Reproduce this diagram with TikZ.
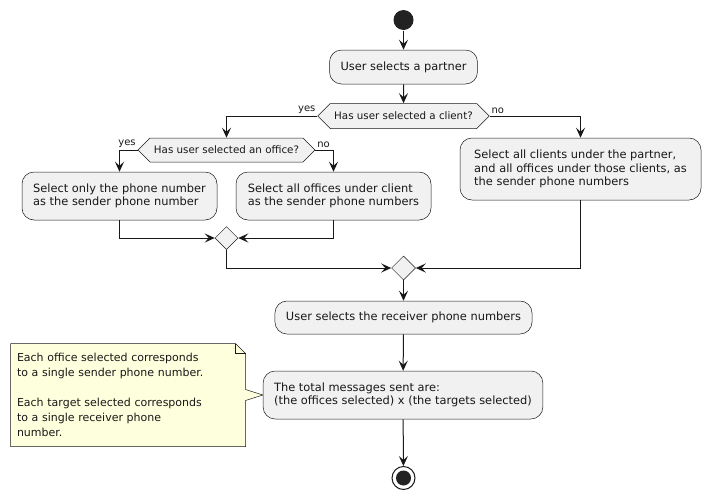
\documentclass[tikz,border=0pt]{standalone}
\usepackage{fontspec}
\setmainfont{DejaVu Sans}
\usepackage{tikz}
\usetikzlibrary{arrows.meta,shapes.geometric,shapes.symbols,backgrounds}

\definecolor{actfill}{HTML}{F1F1F1}
\definecolor{actline}{HTML}{181818}
\definecolor{notefill}{HTML}{FEFFDD}
\definecolor{dotfill}{HTML}{222222}

\begin{document}
\begin{tikzpicture}[x=1pt,y=-1pt
	,>={Stealth[length=10pt,width=9pt,inset=4pt]}
	,line width=1pt
	,color=actline]
  \tikzstyle{act}
  =[rectangle,rounded corners=12pt
  ,draw=actline,line width=0.5pt,fill=actfill
  ,align=left,inner xsep=11pt
  ,font=\fontsize{11.4}{13.6}\selectfont]
  \tikzstyle{ask}
  =[signal,signal to=west and east,signal pointer angle=90
  ,draw=actline,line width=0.5pt,fill=actfill
  ,inner xsep=4pt,font=\fontsize{10.3}{12}\selectfont]
  \tikzstyle{merger}
  =[diamond,draw=actline,line width=0.5pt,fill=actfill
  ,minimum size=23pt,inner sep=0pt]
  \tikzstyle{branch}
  =[inner sep=1.5pt,font=\fontsize{10}{12}\selectfont]

  \useasboundingbox (0,0) rectangle (711,498);

  % start + first action
  \node[circle,fill=dotfill,minimum size=20pt,inner sep=0pt]
    (start) at (403.5,20) {};
  \node[act,minimum width=146pt,minimum height=34pt]
    (partner) at (403.5,67) {User selects a partner};
  % questions
  \node[ask,minimum width=163pt,minimum height=25pt]
    (client) at (403.5,116) {Has user selected a client?};
  \node[ask,minimum width=172pt,minimum height=24pt]
    (office) at (226.5,150) {Has user selected an office?};
  % 3 sender actions
  \node[act,minimum width=195pt,minimum height=48pt]
    (single) at (119.5,196) {Select only the phone number\\
    as the sender phone number};
  \node[act,minimum width=195pt,minimum height=48pt]
    (alloff) at (333.5,196) {Select all offices under client\\
    as the sender phone numbers};
  \node[act,minimum width=241pt,minimum height=62pt]
    (allcli) at (580.5,169) {Select all clients under the partner,\\
    and all offices under those clients, as\\
    the sender phone numbers};
  % merges
  \node[merger] (merge1) at (226.5,238) {};
  \node[merger,minimum size=24pt] (merge2) at (403.5,268) {};
  % receiver + total
  \node[act,minimum width=256pt,minimum height=33pt]
    (receiver) at (403.5,317.5) {User selects the receiver phone numbers};
  \node[act,minimum width=278pt,minimum height=48pt]
    (total) at (403,395) {The total messages sent are:\\
    (the offices selected) x (the targets selected)};
  \node[circle,draw=actline,line width=1pt,fill=white
    ,minimum size=23pt,inner sep=0pt
    ,path picture={\fill[dotfill] (path picture bounding box.center) circle (7.5pt);}]
    (stop) at (403.5,478) {};

  % note
  \node[align=left,text width=222pt,inner xsep=6pt
    ,minimum height=102pt
    ,font=\fontsize{11}{15}\selectfont]
    (note) at (128,395) {Each office selected corresponds\\
    to a single sender phone number.\\[15pt]
    Each target selected corresponds\\
    to a single receiver phone\\
    number.};
  \begin{scope}[on background layer]
    \draw[fill=notefill,draw=actline,line width=0.5pt]
      (note.north west) -- ([xshift=-10pt]note.north east)
      -- ([yshift=-10pt]note.north east)
      -- ([yshift=5.5pt]note.east) -- (total.west)
      -- ([yshift=-5.5pt]note.east)
      -- (note.south east) -- (note.south west) -- cycle;
    \draw[draw=actline,line width=0.5pt]
      ([xshift=-10pt]note.north east)
      -- ([xshift=-10pt,yshift=-10pt]note.north east)
      -- ([yshift=-10pt]note.north east);
  \end{scope}

  % verticals
  \path[->] (start) edge (partner);
  \path[->] (partner) edge (client);
  \path[->] (merge2) edge (receiver);
  \path[->] (receiver) edge (total);
  \path[->] (total) edge (stop);
  % branches
  \draw[->] (client.west) node[branch,anchor=south east] {yes}
    -| (office.north);
  \draw[->] (client.east) node[branch,anchor=south west] {no}
    -| (allcli.north);
  \draw[->] (office.west) node[branch,anchor=south east] {yes}
    -| (single.north);
  \draw[->] (office.east) node[branch,anchor=south west] {no}
    -| (alloff.north);
  % merges
  \draw[->] (single.south) |- (merge1.west);
  \draw[->] (alloff.south) |- (merge1.east);
  \draw[->] (merge1.south) |- (merge2.west);
  \draw[->] (allcli.south) |- (merge2.east);

\end{tikzpicture}
\end{document}
